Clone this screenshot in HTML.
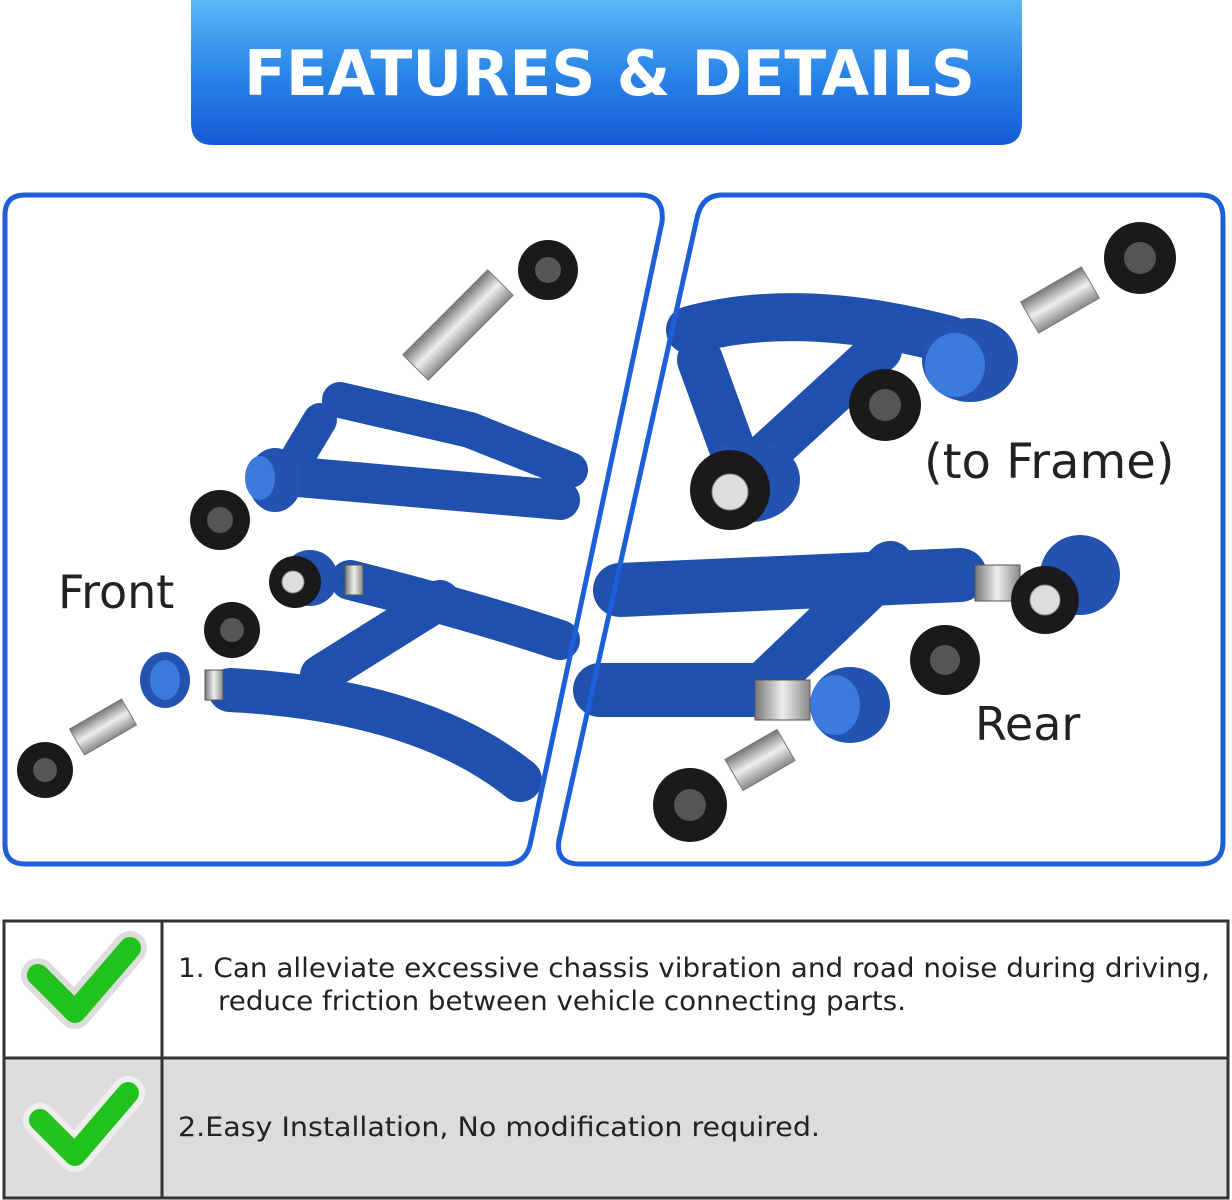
<!DOCTYPE html>
<html><head><meta charset="utf-8"><style>
html,body{margin:0;padding:0;background:#fff;}
svg{display:block}
</style></head><body>
<svg width="1232" height="1200" viewBox="0 0 1232 1200" xmlns="http://www.w3.org/2000/svg" font-family="'DejaVu Sans','Liberation Sans',sans-serif">
<defs>
<linearGradient id="hb" x1="0" y1="0" x2="0" y2="1">
<stop offset="0" stop-color="#5cb8f5"/><stop offset="0.5" stop-color="#2a86e8"/><stop offset="1" stop-color="#1559d6"/></linearGradient>
<linearGradient id="sil" x1="0" y1="0" x2="1" y2="0">
<stop offset="0" stop-color="#777"/><stop offset="0.5" stop-color="#eee"/><stop offset="1" stop-color="#888"/></linearGradient>
</defs>
<path d="M191 0 H1022 V123 Q1022 145 1000 145 H213 Q191 145 191 123 Z" fill="url(#hb)"/>
<text x="244" y="95" textLength="731" lengthAdjust="spacingAndGlyphs" font-weight="bold" font-size="62" fill="#fff">FEATURES &amp; DETAILS</text>

<g stroke="#2050ad" stroke-linecap="round" fill="none">
<path d="M275 475 L560 500" stroke-width="40"/>
<path d="M340 400 L470 430 L570 470" stroke-width="36"/>
<path d="M320 420 L290 470" stroke-width="34"/>
<path d="M230 690 Q420 700 520 780" stroke-width="44"/>
<path d="M350 580 Q470 610 560 640" stroke-width="40"/>
<path d="M320 675 L440 600" stroke-width="40"/>
</g>
<g stroke="#2050ad" stroke-linecap="round" fill="none">
<path d="M690 330 Q800 300 950 340" stroke-width="48"/>
<path d="M700 360 L740 470" stroke-width="46"/>
<path d="M760 460 L880 350" stroke-width="44"/>
<path d="M620 590 L960 575" stroke-width="54"/>
<path d="M600 690 L760 690" stroke-width="54"/>
<path d="M770 680 L890 565" stroke-width="48"/>
</g>
<g fill="#2352b0">
<ellipse cx="275" cy="480" rx="27" ry="32"/>
<ellipse cx="970" cy="360" rx="48" ry="42"/>
<ellipse cx="750" cy="480" rx="50" ry="42"/>
<ellipse cx="1080" cy="575" rx="40" ry="40"/>
<ellipse cx="850" cy="705" rx="40" ry="38"/>
<ellipse cx="165" cy="680" rx="25" ry="28"/>
<ellipse cx="310" cy="578" rx="28" ry="28"/>
</g>
<ellipse cx="955" cy="365" rx="30" ry="32" fill="#3b7be0"/>
<ellipse cx="835" cy="705" rx="25" ry="30" fill="#3b7be0"/>
<ellipse cx="165" cy="680" rx="15" ry="20" fill="#3b7be0"/>
<ellipse cx="260" cy="478" rx="15" ry="22" fill="#3b7be0"/>
<g fill="url(#sil)" stroke="#555">
<rect x="975" y="565" width="45" height="36"/>
<rect x="755" y="680" width="55" height="40"/>
<rect x="345" y="565" width="18" height="30"/>
<rect x="205" y="670" width="18" height="30"/>
</g>
<g fill="#1a1a1a">
<circle cx="548" cy="270" r="30"/><circle cx="220" cy="520" r="30"/>
<circle cx="232" cy="630" r="28"/><circle cx="45" cy="770" r="28"/>
<circle cx="1140" cy="258" r="36"/><circle cx="885" cy="405" r="36"/>
<circle cx="945" cy="660" r="35"/><circle cx="690" cy="805" r="37"/>
<circle cx="730" cy="490" r="40"/><circle cx="1045" cy="600" r="34"/>
<circle cx="295" cy="582" r="26"/>
</g>
<g fill="#555">
<circle cx="548" cy="270" r="13"/><circle cx="220" cy="520" r="13"/>
<circle cx="232" cy="630" r="12"/><circle cx="45" cy="770" r="12"/>
<circle cx="1140" cy="258" r="16"/><circle cx="885" cy="405" r="16"/>
<circle cx="945" cy="660" r="15"/><circle cx="690" cy="805" r="16"/>
</g>
<g fill="#ddd" stroke="#888"><circle cx="730" cy="492" r="18"/><circle cx="1045" cy="600" r="15"/><circle cx="293" cy="582" r="11"/></g>
<g fill="url(#sil)" stroke="#777">
<rect x="-18" y="-60" width="36" height="120" transform="translate(458,325) rotate(45)"/>
<rect x="-15" y="-30" width="30" height="60" transform="translate(103,727) rotate(60)"/>
<rect x="-18" y="-35" width="36" height="70" transform="translate(1060,300) rotate(60)"/>
<rect x="-18" y="-30" width="36" height="60" transform="translate(760,760) rotate(60)"/>
</g>

<path d="M25 195 H640 Q665 195 662 222 L530 845 Q525 864 505 864 H25 Q5 864 5 844 V215 Q5 195 25 195 Z" fill="none" stroke="#1d5fd9" stroke-width="5"/>
<path d="M722 195 H1200 Q1223 195 1223 218 V842 Q1223 864 1200 864 H580 Q555 864 559 840 L697 218 Q702 195 722 195 Z" fill="none" stroke="#1d5fd9" stroke-width="5"/>
<text x="58" y="608" font-size="46" fill="#222">Front</text>
<text x="924" y="478" font-size="48" fill="#222">(to Frame)</text>
<text x="975" y="740" font-size="46" fill="#222">Rear</text>

<rect x="4" y="1058" width="1224" height="140" fill="#dcdcdc"/>
<rect x="4" y="921" width="1224" height="277" fill="none" stroke="#333" stroke-width="3"/>
<line x1="4" y1="1058" x2="1228" y2="1058" stroke="#333" stroke-width="3"/>
<line x1="162" y1="921" x2="162" y2="1198" stroke="#333" stroke-width="3"/>
<g stroke-linejoin="round" stroke-linecap="round" fill="none">
<path d="M38 975 L75 1012 L130 948" stroke="#ddd" stroke-width="34"/>
<path d="M38 975 L75 1012 L130 948" stroke="#22c21c" stroke-width="22"/>
<path d="M40 1120 L75 1155 L128 1093" stroke="#eee" stroke-width="34"/>
<path d="M40 1120 L75 1155 L128 1093" stroke="#22c21c" stroke-width="22"/>
</g>
<g font-size="27" fill="#222">
<text x="178" y="977" textLength="1032" lengthAdjust="spacingAndGlyphs">1. Can alleviate excessive chassis vibration and road noise during driving,</text>
<text x="218" y="1010" textLength="688" lengthAdjust="spacingAndGlyphs">reduce friction between vehicle connecting parts.</text>
<text x="178" y="1136" textLength="642" lengthAdjust="spacingAndGlyphs">2.Easy Installation,  No modification required.</text>
</g>
</svg>
</body></html>
